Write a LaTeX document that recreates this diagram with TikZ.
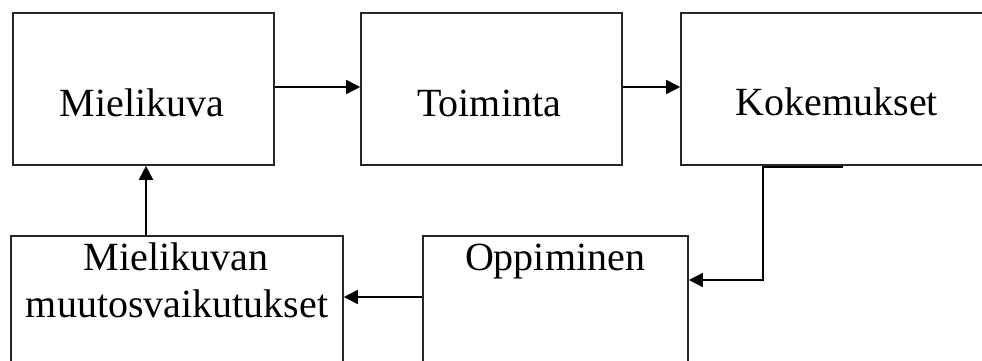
\documentclass[tikz,border=0pt]{standalone}
\usepackage{fontspec}
\setmainfont{Liberation Serif}
\usetikzlibrary{arrows.meta}
\begin{document}
\begin{tikzpicture}[x=1pt,y=-1pt,
  box/.style={draw=black!85, line width=1.6pt, inner sep=0pt},
  lbl/.style={font=\fontsize{40}{47}\selectfont, text=black, inner sep=0pt},
  flow/.style={draw=black, line width=1.6pt, -{Triangle[length=14pt,width=14pt]}}]
\useasboundingbox (0,0) rectangle (982,361);
\clip (0,0) rectangle (982,361);
% upper row
\node[box, minimum width=261pt, minimum height=152pt] (mk) at (143.5,89) {};
\node[box, minimum width=261pt, minimum height=152pt] (to) at (491.5,89) {};
\node[box, minimum width=312pt, minimum height=152pt] (ko) at (837,89) {};
% lower row
\node[box, minimum width=332pt, minimum height=164pt] (mv) at (177,318) {};
\node[box, minimum width=265pt, minimum height=164pt] (op) at (555.5,318) {};
% labels
\node[lbl, anchor=base] (tmk) at (142,116) {Mielikuva};
\node[lbl, anchor=base] (tto) at (489,116) {Toiminta};
\node[lbl, anchor=base] (tko) at (837,115) {Kokemukset};
\node[lbl, anchor=base] (tmv1) at (176,270) {Mielikuvan};
\node[lbl, anchor=base] (tmv2) at (177,317) {muutosvaikutukset};
\node[lbl, anchor=base] (top) at (555,270) {Oppiminen};
% connectors
\draw[flow] ([yshift=2pt]mk.east) -- ([yshift=2pt]to.west);
\draw[flow] ([yshift=2pt]to.east) -- ([yshift=2pt]ko.west);
\coordinate (kx) at (843,167);
\coordinate (kb) at (763,167);
\draw[flow] (kx) -- (kb) |- ([yshift=38pt]op.east);
\draw[flow] ([yshift=21pt]op.west) -- ([yshift=21pt]mv.east);
\draw[flow] ([xshift=-31pt]mv.north) -- ([xshift=-31pt]mv.north |- mk.south);
\end{tikzpicture}
\end{document}
